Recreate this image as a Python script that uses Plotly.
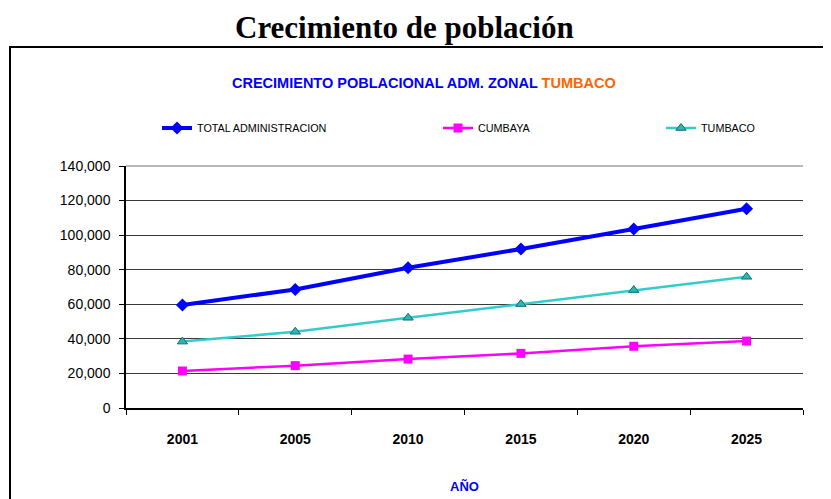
import plotly.graph_objects as go

years = ["2001", "2005", "2010", "2015", "2020", "2025"]
total = [59600, 68600, 81100, 92000, 103500, 115300]
cumbaya = [21400, 24500, 28300, 31600, 35700, 38700]
tumbaco = [38400, 44100, 52200, 60100, 68200, 75900]
y_ticks = [0, 20000, 40000, 60000, 80000, 100000, 120000, 140000]

OFF = 8  # page body margin
W, H = 831, 499
L, R, T, B = 126 - OFF, 28 + OFF, 166 - OFF, 91 + OFF
pw, ph = W - L - R, H - T - B

def px(x):
    return (x - OFF - L) / pw

def py(y):
    return (H - B - (y - OFF)) / ph

fig = go.Figure()
fig.add_trace(go.Scatter(x=years, y=total, name="TOTAL ADMINISTRACION", mode="lines+markers",
                         line=dict(color="#0000FF", width=4),
                         marker=dict(symbol="diamond", size=10, color="#0000FF"),
                         legend="legend"))
fig.add_trace(go.Scatter(x=years, y=cumbaya, name="CUMBAYA", mode="lines+markers",
                         line=dict(color="#FF00FF", width=2.5),
                         marker=dict(symbol="square", size=9, color="#FF00FF"),
                         legend="legend2"))
fig.add_trace(go.Scatter(x=years, y=tumbaco, name="TUMBACO", mode="lines+markers",
                         line=dict(color="#33CCCC", width=2.5),
                         marker=dict(symbol="triangle-up", size=9, color="#2FB5B5",
                                     line=dict(color="#0E6F6F", width=1)),
                         legend="legend3"))

leg_common = dict(orientation="h", yanchor="middle", xanchor="left", bgcolor="rgba(0,0,0,0)",
                  font=dict(family="Arial, Liberation Sans", size=10.8, color="#000"),
                  itemwidth=30, tracegroupgap=0)
fig.update_layout(
    width=W, height=H,
    margin=dict(l=L, r=R, t=T, b=B),
    paper_bgcolor="white", plot_bgcolor="white",
    showlegend=True,
    legend=dict(x=px(157), y=py(128), **leg_common),
    legend2=dict(x=px(438), y=py(128), **leg_common),
    legend3=dict(x=px(661), y=py(128), **leg_common),
    xaxis=dict(type="category", showline=True, linecolor="#000", linewidth=1.5,
               ticks="outside", tickson="boundaries", ticklen=5, tickcolor="#000",
               showgrid=False, ticklabelstandoff=17,
               tickfont=dict(family="Arial, Liberation Sans", size=14, color="#000", weight="bold"),
               range=[-0.5, 5.5]),
    yaxis=dict(range=[0, 140000], tickvals=y_ticks, tickformat=",d",
               showline=True, linecolor="#000", linewidth=1.5,
               ticks="outside", ticklen=5, tickcolor="#000",
               showgrid=True, gridcolor="#3a3a3a", gridwidth=1,
               zeroline=False, ticklabelstandoff=6,
               tickfont=dict(family="Arial, Liberation Sans", size=14, color="#000")),
    shapes=[
        dict(type="rect", xref="paper", yref="paper", x0=px(10), x1=px(850), y0=py(47), y1=py(520),
             line=dict(color="#000", width=2), fillcolor="rgba(0,0,0,0)", layer="below"),
        dict(type="line", xref="paper", yref="paper", x0=0, x1=1, y0=1, y1=1,
             line=dict(color="#A0A0A0", width=1.5)),
    ],
    annotations=[
        dict(text="<b>Crecimiento de población</b>", xref="paper", yref="paper",
             x=px(404), y=py(27), xanchor="center", yanchor="middle", showarrow=False,
             font=dict(family="Liberation Serif, Times New Roman", size=31, color="#000")),
        dict(text="<b>CRECIMIENTO POBLACIONAL ADM. ZONAL <span style='color:#FF6600'>TUMBACO</span></b>",
             xref="paper", yref="paper", x=px(424), y=py(83), xanchor="center", yanchor="middle",
             showarrow=False, font=dict(family="Arial, Liberation Sans", size=14.5, color="#0000FF")),
        dict(text="<b>AÑO</b>", xref="paper", yref="paper", x=px(464), y=py(486),
             xanchor="center", yanchor="middle", showarrow=False,
             font=dict(family="Arial, Liberation Sans", size=13, color="#0000FF")),
    ],
)

fig.write_html("out.html")
